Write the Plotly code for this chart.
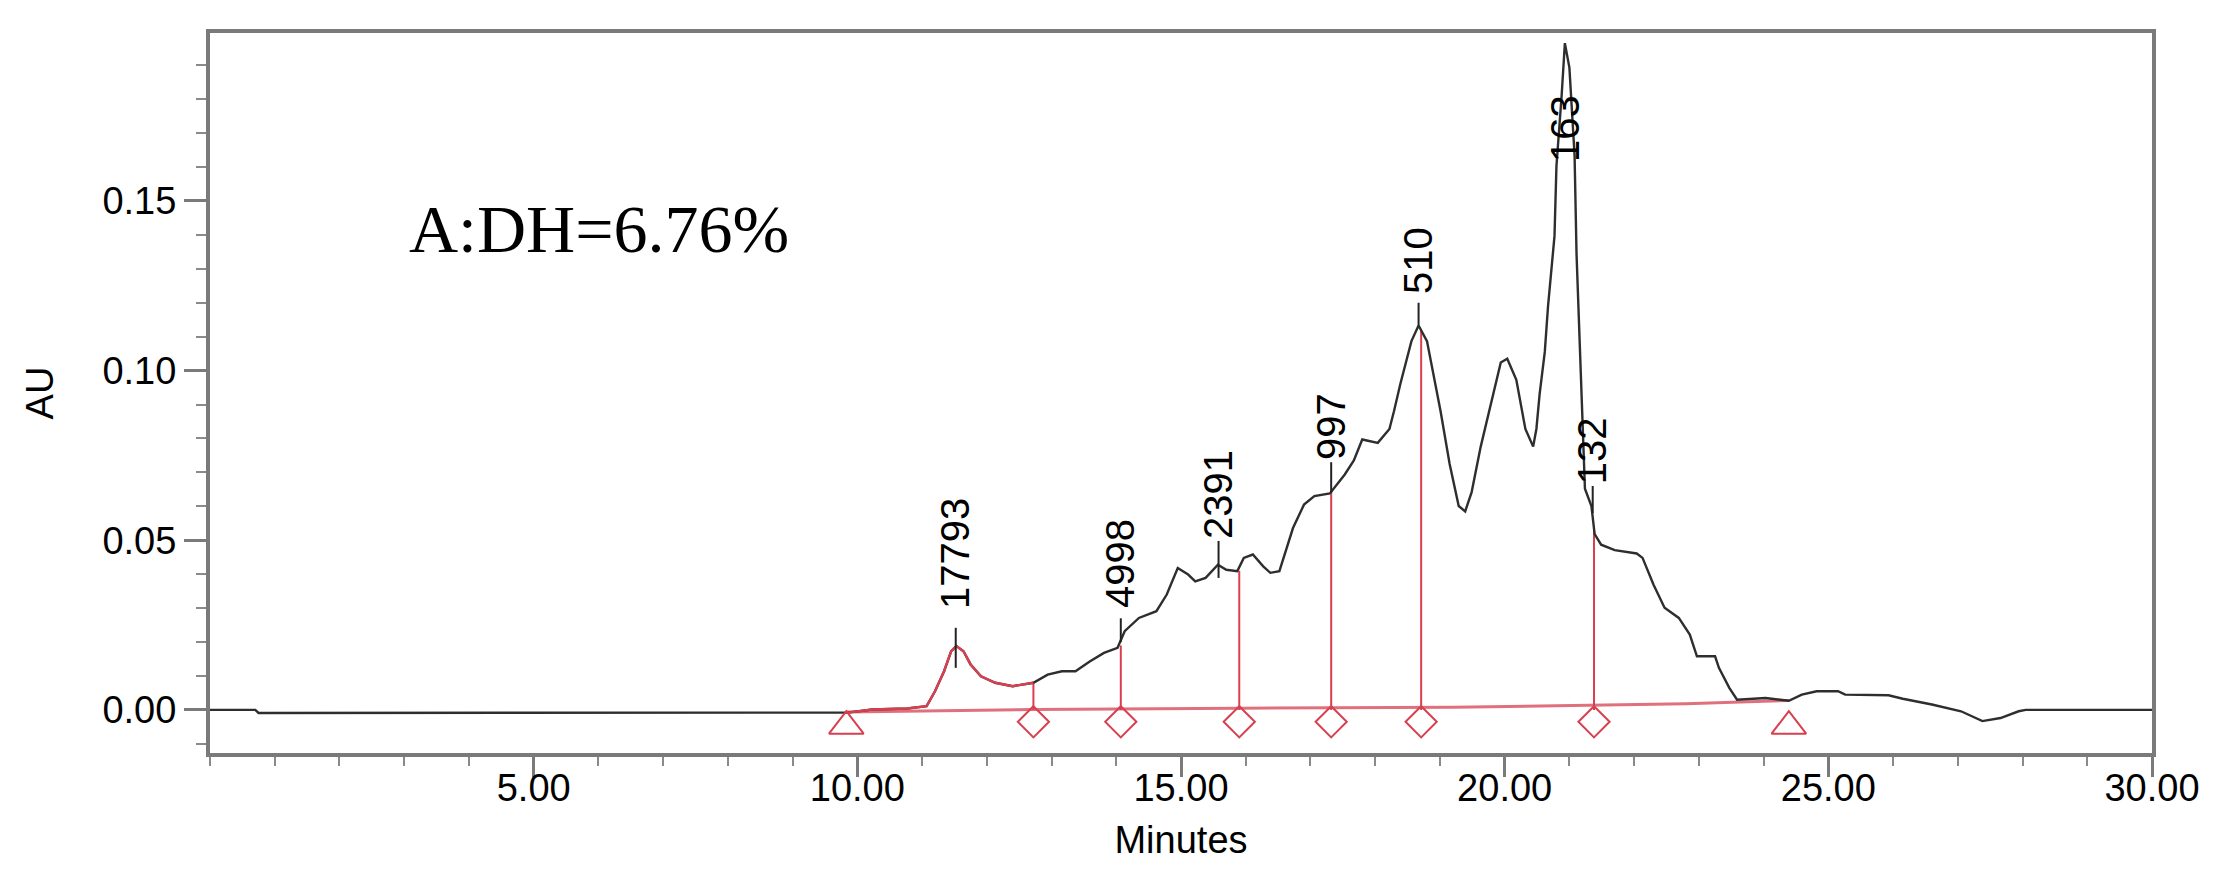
import plotly.graph_objects as go

# chromatogram trace (minutes, AU)
time_min = [0.00, 0.70, 0.75, 9.85, 10.23, 10.77, 11.07, 11.20, 11.34, 11.45,
            11.53, 11.64, 11.75, 11.91, 12.13, 12.40, 12.72, 12.94, 13.16, 13.37,
            13.59, 13.81, 14.02, 14.13, 14.35, 14.62, 14.78, 14.95, 15.11, 15.22,
            15.38, 15.57, 15.70, 15.87, 15.97, 16.11, 16.27, 16.38, 16.52, 16.62,
            16.73, 16.90, 17.06, 17.30, 17.53, 17.67, 17.80, 18.04, 18.22, 18.29,
            18.39, 18.56, 18.67, 18.80, 18.91, 19.01, 19.15, 19.29, 19.39, 19.49,
            19.63, 19.77, 19.94, 20.04, 20.18, 20.32, 20.44, 20.49, 20.54, 20.62,
            20.67, 20.77, 20.80, 20.88, 20.93, 21.00, 21.08, 21.11, 21.16, 21.19,
            21.21, 21.24, 21.34, 21.39, 21.49, 21.70, 22.04, 22.13, 22.30, 22.47,
            22.69, 22.86, 22.97, 23.25, 23.31, 23.47, 23.59, 24.03, 24.39, 24.59,
            24.82, 25.15, 25.26, 25.93, 26.15, 26.60, 27.05, 27.38, 27.66, 27.94,
            28.05, 30.00]
absorbance = [0.0000, 0.0000, -0.0009, -0.0008, 0.0001, 0.0004, 0.0011, 0.0055, 0.0114, 0.0173,
              0.0188, 0.0173, 0.0134, 0.0099, 0.0080, 0.0070, 0.0080, 0.0104, 0.0114, 0.0114,
              0.0143, 0.0168, 0.0183, 0.0232, 0.0271, 0.0291, 0.0340, 0.0418, 0.0399, 0.0379,
              0.0389, 0.0428, 0.0413, 0.0409, 0.0448, 0.0458, 0.0423, 0.0404, 0.0409, 0.0468,
              0.0536, 0.0605, 0.0630, 0.0638, 0.0694, 0.0735, 0.0797, 0.0787, 0.0828, 0.0880,
              0.0962, 0.1087, 0.1133, 0.1087, 0.0984, 0.0880, 0.0725, 0.0601, 0.0585, 0.0642,
              0.0776, 0.0890, 0.1024, 0.1035, 0.0973, 0.0828, 0.0776, 0.0828, 0.0931, 0.1055,
              0.1190, 0.1397, 0.1603, 0.1810, 0.1965, 0.1893, 0.1634, 0.1345, 0.1086, 0.0931,
              0.0828, 0.0652, 0.0601, 0.0518, 0.0487, 0.0471, 0.0461, 0.0448, 0.0369, 0.0301,
              0.0271, 0.0222, 0.0158, 0.0158, 0.0124, 0.0065, 0.0030, 0.0035, 0.0027, 0.0045,
              0.0055, 0.0055, 0.0045, 0.0043, 0.0033, 0.0016, -0.0004, -0.0033, -0.0024, -0.0004,
              0.0000, 0.0000]

# peak labels (molecular weight) and where they sit
peak_labels = ["17793", "4998", "2391", "997", "510", "163", "132"]
peak_time = [11.52, 14.07, 15.58, 17.32, 18.67, 20.93, 21.36]
label_au = [0.0292, 0.0295, 0.0498, 0.0730, 0.1220, 0.1610, 0.0660]
tick_low = [0.0124, 0.0200, 0.0389, 0.0640, 0.1133, 0.1610, 0.0580]
tick_high = [0.0242, 0.0270, 0.0498, 0.0730, 0.1200, 0.1610, 0.0660]

# integration drop lines and baseline
drop_time = [12.72, 14.07, 15.90, 17.32, 18.71, 21.38]
drop_au = [0.0080, 0.0190, 0.0410, 0.0640, 0.1117, 0.0540]
start_end_time = [9.83, 24.39]
base_time = [9.83, 12.72, 15.90, 19.20, 22.80, 24.39]
base_au = [-0.0006, 0.0001, 0.0005, 0.0008, 0.0018, 0.0028]

RED = '#d8404f'
fig = go.Figure()

fig.add_trace(go.Scatter(x=base_time, y=base_au, mode='lines',
                         line=dict(color='#e0707c', width=3), hoverinfo='skip'))

for t, top in zip(drop_time, drop_au):
    fig.add_trace(go.Scatter(x=[t, t], y=[0, top], mode='lines',
                             line=dict(color=RED, width=2), hoverinfo='skip'))

fig.add_trace(go.Scatter(x=time_min, y=absorbance, mode='lines',
                         line=dict(color='#2e2e2e', width=2.4)))

# first peak drawn in red
pk_x = [t for t in time_min if 9.85 <= t <= 12.72]
pk_y = [a for t, a in zip(time_min, absorbance) if 9.85 <= t <= 12.72]
fig.add_trace(go.Scatter(x=pk_x, y=pk_y, mode='lines',
                         line=dict(color=RED, width=2.4), hoverinfo='skip'))

for t, lo, hi in zip(peak_time, tick_low, tick_high):
    if hi > lo:
        fig.add_trace(go.Scatter(x=[t, t], y=[lo, hi], mode='lines',
                                 line=dict(color='#222222', width=2), hoverinfo='skip'))

fig.add_trace(go.Scatter(x=drop_time, y=[-0.0035] * len(drop_time), mode='markers',
                         marker=dict(symbol='diamond-open', size=24, color=RED,
                                     line=dict(width=2, color=RED))))
fig.add_trace(go.Scatter(x=start_end_time, y=[-0.0048] * len(start_end_time), mode='markers',
                         marker=dict(symbol='triangle-up-open', size=30, color=RED,
                                     line=dict(width=2, color=RED))))

for lab, t, y in zip(peak_labels, peak_time, label_au):
    fig.add_annotation(x=t, y=y, text=lab, textangle=-90, showarrow=False,
                       xanchor='center', yanchor='bottom',
                       font=dict(family='Liberation Sans, Arial', size=40, color='black'))

fig.add_annotation(x=3.05, y=0.1417, text='A:DH=6.76%', showarrow=False,
                   xanchor='left', yanchor='middle',
                   font=dict(family='Liberation Serif, Times New Roman', size=68, color='black'))

axis_font = dict(family='Liberation Sans, Arial', size=38, color='black')
fig.update_layout(
    width=2233, height=875,
    margin=dict(l=202, r=89, t=25, b=130),
    paper_bgcolor='white', plot_bgcolor='white',
    showlegend=False,
    font=axis_font,
    xaxis=dict(range=[0, 30], tickvals=[5, 10, 15, 20, 25, 30], tickformat='.2f',
               showgrid=False, zeroline=False, showline=True, linecolor='#7a7a7a',
               linewidth=4, mirror=True, ticks='outside', ticklen=20, tickwidth=3,
               tickcolor='#7a7a7a', tickfont=axis_font, ticklabelstandoff=-22,
               minor=dict(dtick=1, ticks='outside', ticklen=9, tickwidth=2, tickcolor='#8a8a8a'),
               title=dict(text='Minutes', font=axis_font, standoff=20)),
    yaxis=dict(range=[-0.0127, 0.1995], tickvals=[0, 0.05, 0.10, 0.15], tickformat='.2f',
               showgrid=False, zeroline=False, showline=True, linecolor='#7a7a7a',
               linewidth=4, mirror=True, ticks='outside', ticklen=22, tickwidth=3,
               tickcolor='#7a7a7a', tickfont=axis_font,
               minor=dict(dtick=0.01, tick0=0, ticks='outside', ticklen=10, tickwidth=2,
                          tickcolor='#8a8a8a'),
               title=dict(text='AU', font=axis_font, standoff=38)),
)

fig.write_html("out.html")
